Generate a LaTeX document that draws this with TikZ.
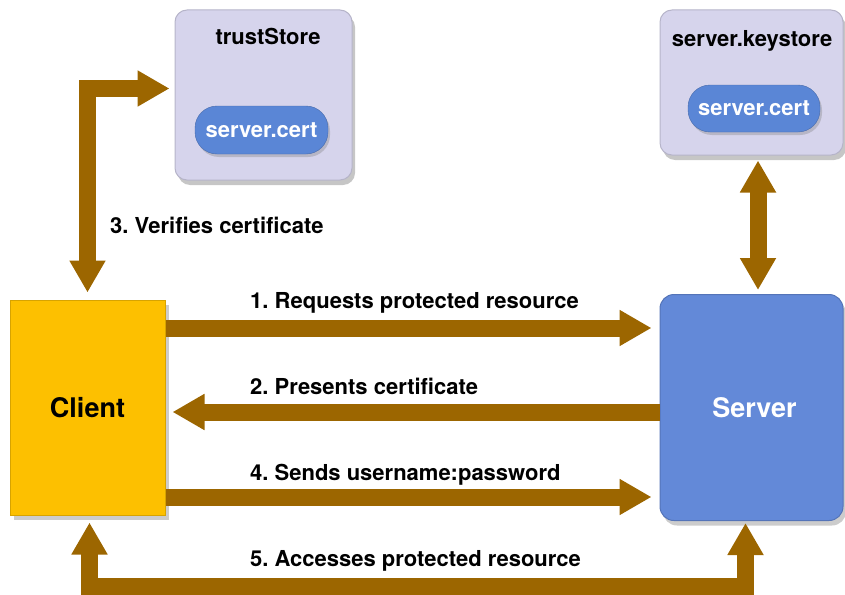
\documentclass[tikz,border=0pt]{standalone}
\usepackage{fontspec}
\setmainfont{TeX Gyre Heros}
\usepackage{tikz}
\usetikzlibrary{arrows.meta,positioning,calc,shadows}
\definecolor{flowbrown}{RGB}{156,102,0}
\definecolor{clientgold}{RGB}{253,192,0}
\definecolor{serverblue}{RGB}{99,137,216}
\definecolor{storelav}{RGB}{214,212,236}
\definecolor{certblue}{RGB}{90,134,214}
\frenchspacing

\begin{document}
\begin{tikzpicture}[x=1pt,y=-1pt,>={Triangle[width=34pt,length=32pt]},
  lbl/.style={font=\fontsize{22}{26}\selectfont\bfseries,inner sep=0pt},
  store/.style={draw=storelav!85!black,fill=storelav,line width=1pt,rounded corners=12pt,
    drop shadow={opacity=0.45,shadow xshift=3pt,shadow yshift=-5pt}},
  cert/.style={lbl,text=white,fill=certblue,draw=certblue!80!black,rounded corners=22pt,
    minimum width=133pt,minimum height=48pt,
    drop shadow={opacity=0.35,shadow xshift=2pt,shadow yshift=-3pt}},
  client/.style={fill=clientgold,draw=clientgold!85!black,line width=1pt,
    minimum width=155pt,minimum height=215pt,font=\fontsize{27}{32}\selectfont\bfseries,
    drop shadow={opacity=0.4,shadow xshift=4pt,shadow yshift=-5pt}},
  server/.style={fill=serverblue,draw=serverblue!85!black,line width=1pt,rounded corners=14pt,
    text=white,minimum width=183pt,minimum height=226pt,font=\fontsize{27}{32}\selectfont\bfseries,
    drop shadow={opacity=0.4,shadow xshift=3pt,shadow yshift=-5pt}},
  flow/.style={draw=flowbrown,line width=17pt}]
  \useasboundingbox (0,0) rectangle (845,594);
  % key stores
  \node[store,minimum width=177pt,minimum height=170pt] (trust) at (263.5,95) {};
  \node[lbl,anchor=base] (trusttitle) at (268,45) {trustStore};
  \node[cert] (trustcert) at (261.5,130) {server.cert};
  \node[store,minimum width=183pt,minimum height=145pt] (keys) at (751.5,82.5) {};
  \node[lbl,anchor=base] (keystitle) at (752,47) {server.keystore};
  \node[cert,minimum width=132pt,minimum height=47pt] (keycert) at (754,108.5) {server.cert};
  % the two parties
  \node[client] (client) at (87.5,407.5) {Client};
  \node[server] (server) at (751.5,407.5) {\hspace*{6pt}Server};
  % messages
  \draw[flow,->,shorten >=8pt] ([yshift=79.5pt]client.east) -- ([yshift=79.5pt]server.west);
  \draw[flow,->,shorten >=7pt] ([yshift=-4.5pt]server.west) -- ([yshift=-4.5pt]client.east);
  \draw[flow,->,shorten >=8pt] ([yshift=-89.5pt]client.east) -- ([yshift=-89.5pt]server.west);
  \draw[flow,<->,shorten <=5pt,shorten >=7pt] ([yshift=6.5pt]trust.west) -| (client.north);
  \draw[flow,<->,shorten <=5pt,shorten >=4pt] ([xshift=6.5pt]keys.south) -- ([xshift=6.5pt]server.north);
  \coordinate (lowrow) at (0,586);
  \coordinate (cfoot) at ([xshift=2pt]client.south);
  \coordinate (sfoot) at ([xshift=-6pt]server.south);
  \draw[flow,<->,shorten <=7pt,shorten >=2pt] (cfoot) -- (cfoot |- lowrow) -- (sfoot |- lowrow) -- (sfoot);
  % step labels
  \node[lbl,anchor=base west] (verlbl) at (110,233) {3. Verifies certificate};
  \node[lbl,anchor=base west] (reqlbl) at (250,308) {1. Requests protected resource};
  \node[lbl,anchor=base west] (preslbl) at (250,394) {2. Presents certificate};
  \node[lbl,anchor=base west] (sendlbl) at (250,480) {4. Sends username:password};
  \node[lbl,anchor=base west] (acclbl) at (250,566) {5. Accesses protected resource};
\end{tikzpicture}
\end{document}
